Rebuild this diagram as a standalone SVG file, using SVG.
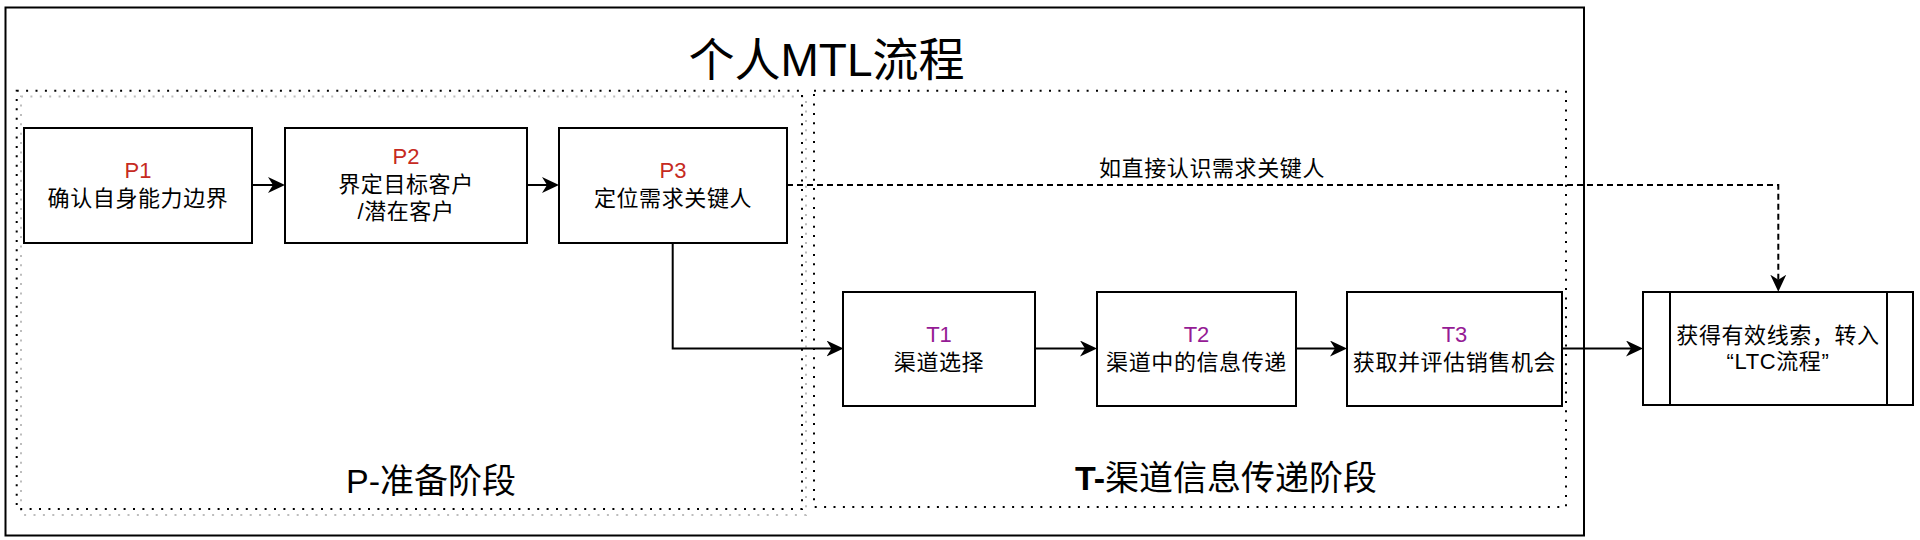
<svg xmlns="http://www.w3.org/2000/svg" width="1920" height="540" viewBox="0 0 1920 540">
<defs>
<style>
.frame{fill:#fff;stroke:#000;stroke-width:2}
.box{fill:#fff;stroke:#000;stroke-width:2}
.region{fill:none;stroke:#000;stroke-width:2;stroke-dasharray:2 7.4}
.shadow{fill:none;stroke:#bdbdbd;stroke-width:2;stroke-dasharray:2 7.4}
.conn{fill:none;stroke:#000;stroke-width:2}
.dash{stroke-dasharray:6 4}
text{font-family:"Liberation Sans","Noto Sans CJK SC",sans-serif;text-anchor:middle;fill:#000}
.lbl{font-size:22px;letter-spacing:0.6px}
.code{font-size:22px;letter-spacing:0}
.p{fill:#C62A22}
.t{fill:#951B95}
.title{font-size:46px}
.phase{font-size:34px}
</style>
<marker id="ah" viewBox="0 0 17 16" refX="13" refY="8" markerWidth="17" markerHeight="16" markerUnits="userSpaceOnUse" orient="auto">
<path d="M0,0 L17,8 L0,16 L5,8 Z" fill="#000"/>
</marker>
</defs>
<rect width="1920" height="540" fill="#fff"/>
<g id="frame">
<rect class="frame" x="5.5" y="7.5" width="1578.5" height="528"/>
<text class="title" x="826.5" y="76">个人MTL流程</text>
</g>
<g id="phase-p">
<rect class="shadow" x="21" y="96.5" width="785" height="418.5"/>
<rect class="region" x="16.7" y="90.7" width="785.3" height="418.3"/>
<text class="phase" x="431" y="493">P-准备阶段</text>
</g>
<g id="phase-t">
<rect class="region" x="814" y="90.7" width="752" height="416.3"/>
<text class="phase" x="1226" y="490"><tspan font-weight="bold">T-</tspan>渠道信息传递阶段</text>
</g>
<g id="connectors">
<path class="conn" d="M252,185 H281" marker-end="url(#ah)"/>
<path class="conn" d="M527,185 H555" marker-end="url(#ah)"/>
<path class="conn" d="M672.7,243 V348.5 H839.5" marker-end="url(#ah)"/>
<path class="conn" d="M1035,348.5 H1093" marker-end="url(#ah)"/>
<path class="conn" d="M1296,348.5 H1343" marker-end="url(#ah)"/>
<path class="conn" d="M1562,348.5 H1639" marker-end="url(#ah)"/>
<path class="conn dash" d="M787,185 H1778.3 V287.7" marker-end="url(#ah)"/>
<text class="lbl" x="1212" y="176">如直接认识需求关键人</text>
</g>
<g id="P1">
<rect class="box" x="24" y="128" width="228" height="115"/>
<text class="code p" x="138" y="178">P1</text>
<text class="lbl" x="138" y="206">确认自身能力边界</text>
</g>
<g id="P2">
<rect class="box" x="285" y="128" width="242" height="115"/>
<text class="code p" x="406" y="164">P2</text>
<text class="lbl" x="406" y="192">界定目标客户</text>
<text class="lbl" x="406" y="219">/潜在客户</text>
</g>
<g id="P3">
<rect class="box" x="559" y="128" width="228" height="115"/>
<text class="code p" x="673" y="178">P3</text>
<text class="lbl" x="673" y="206">定位需求关键人</text>
</g>
<g id="T1">
<rect class="box" x="843" y="292" width="192" height="114"/>
<text class="code t" x="939" y="341.7">T1</text>
<text class="lbl" x="939" y="370">渠道选择</text>
</g>
<g id="T2">
<rect class="box" x="1097" y="292" width="199" height="114"/>
<text class="code t" x="1196.5" y="341.7">T2</text>
<text class="lbl" x="1196.5" y="370">渠道中的信息传递</text>
</g>
<g id="T3">
<rect class="box" x="1347" y="292" width="215" height="114"/>
<text class="code t" x="1454.5" y="341.7">T3</text>
<text class="lbl" x="1454.5" y="370">获取并评估销售机会</text>
</g>
<g id="LTC">
<rect class="box" x="1643" y="292" width="270" height="113"/>
<line class="conn" x1="1670" y1="292" x2="1670" y2="405"/>
<line class="conn" x1="1887" y1="292" x2="1887" y2="405"/>
<text class="lbl" x="1778" y="343">获得有效线索，转入</text>
<text class="lbl" x="1778" y="369">“LTC流程”</text>
</g>
</svg>
